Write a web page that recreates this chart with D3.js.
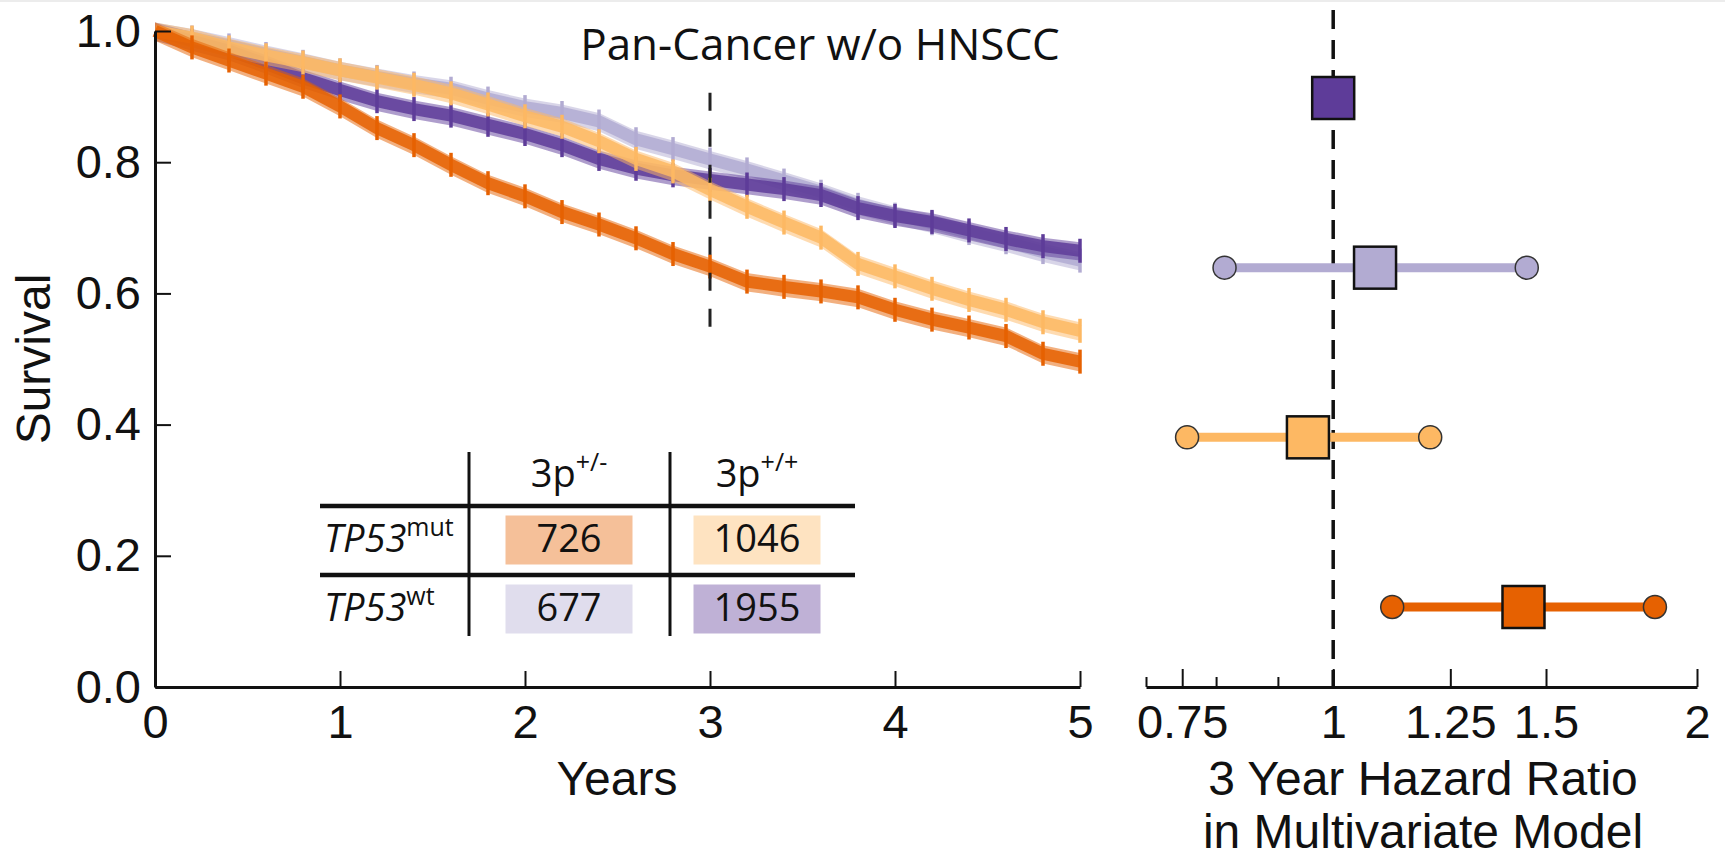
<!DOCTYPE html>
<html><head><meta charset="utf-8">
<script src="https://cdn.jsdelivr.net/npm/d3@7"></script>
<style>body{margin:0;background:#fff}svg{display:block}</style>
</head><body><svg id="c" width="1725" height="862"></svg>
<script>
// ---------- data ----------
const years = [0,0.2,0.4,0.6,0.8,1.0,1.2,1.4,1.6,1.8,2.0,2.2,2.4,2.6,2.8,3.0,3.2,3.4,3.6,3.8,4.0,4.2,4.4,4.6,4.8,5.0];
// TP53wt 3p+/-
const survWtLoss    = [1.0,0.99,0.978,0.965,0.953,0.94,0.93,0.92,0.912,0.897,0.884,0.875,0.862,0.835,0.82,0.804,0.789,0.772,0.755,0.735,0.72,0.707,0.692,0.678,0.663,0.65];
// TP53wt 3p+/+
const survWtIntact  = [1.0,0.985,0.97,0.95,0.928,0.91,0.893,0.881,0.871,0.857,0.843,0.826,0.805,0.79,0.78,0.773,0.766,0.759,0.75,0.73,0.718,0.709,0.696,0.683,0.672,0.665];
// TP53mut 3p+/+
const survMutIntact = [1.0,0.99,0.975,0.963,0.952,0.94,0.929,0.918,0.905,0.888,0.87,0.854,0.832,0.805,0.786,0.758,0.732,0.708,0.685,0.645,0.626,0.607,0.59,0.575,0.556,0.543];
// TP53mut 3p+/-
const survMutLoss   = [1.0,0.975,0.955,0.935,0.915,0.885,0.852,0.826,0.796,0.768,0.748,0.724,0.705,0.684,0.66,0.641,0.618,0.61,0.603,0.594,0.575,0.56,0.548,0.535,0.508,0.496];

const groups = ["wt_intact","wt_loss","mut_intact","mut_loss"];
const groupColors = {wt_intact:"#5e3c99", wt_loss:"#b2abd2", mut_intact:"#fdb863", mut_loss:"#e66101"};

// forest plot (3 year hazard ratio)
const hazardRatio = [1.0, 1.083, 0.953, 1.437];
const ciLow       = [null, 0.813, 0.757, 1.119];
const ciHigh      = [null, 1.446, 1.203, 1.846];
const hrMajorTicks = [0.75, 1, 1.25, 1.5, 2];
const hrMinorTicks = [0.7, 0.8, 0.9];

// inset table
const tableRows = ["TP53|mut","TP53|wt"];
const tableCols = ["3p|+/-","3p|+/+"];
const tableCounts = [[726,1046],[677,1955]];
const tableGroups = [["mut_loss","mut_intact"],["wt_loss","wt_intact"]];

const yearTicks = [0,1,2,3,4,5];
const survTicks = [0,0.2,0.4,0.6,0.8,1.0];
const cutYear = 3;

// ---------- drawing ----------
const svg = d3.select("#c");
const AX = "Liberation Sans, Arial, sans-serif";
const MY = "Open Sans, Noto Sans, sans-serif";

svg.append("line").attr("x1",0).attr("x2",1725).attr("y1",1).attr("y2",1)
  .attr("stroke","#ececec").attr("stroke-width",2);

const x = d3.scaleLinear().domain([0,5]).range([155,1080]);
const y = d3.scaleLinear().domain([0,1]).range([687,31]);

// KM curves
const kmSeries = [
  {g:"wt_loss", s:survWtLoss},
  {g:"wt_intact", s:survWtIntact},
  {g:"mut_intact", s:survMutIntact},
  {g:"mut_loss", s:survMutLoss}
];
const kmLine = d3.line().x(d=>x(d[0])).y(d=>y(d[1]));
const band = d3.area().x(d=>x(d[0])).y0(d=>y(d[1]-0.015)).y1(d=>y(d[1]+0.013));
const km = svg.append("g");
kmSeries.forEach(ser=>{
  const pts = years.map((t,i)=>[t,ser.s[i]]);
  const c = groupColors[ser.g];
  km.append("path").attr("d",band(pts)).attr("fill",c).attr("opacity",0.5);
  km.append("path").attr("d",kmLine(pts)).attr("fill","none").attr("stroke",c)
    .attr("stroke-width",12).attr("opacity",0.85);
  km.selectAll(null).data(pts.slice(1)).enter().append("line")
    .attr("x1",d=>x(d[0])).attr("x2",d=>x(d[0]))
    .attr("y1",d=>y(d[1])-12).attr("y2",d=>y(d[1])+12)
    .attr("stroke",c).attr("stroke-width",3.5);
});

// dashed 3-year line
svg.append("line").attr("x1",x(cutYear)).attr("x2",x(cutYear))
  .attr("y1",y(0.906)).attr("y2",y(0.542))
  .attr("stroke","#222").attr("stroke-width",3).attr("stroke-dasharray","18,18");

// axes
const yAxis = svg.append("g").attr("transform",`translate(${x(0)},0)`)
  .call(d3.axisLeft(y).tickValues(survTicks).tickFormat(d3.format(".1f")).tickSize(-16).tickPadding(14).tickSizeOuter(0));
const xAxis = svg.append("g").attr("transform",`translate(0,${y(0)})`)
  .call(d3.axisBottom(x).tickValues(yearTicks).tickFormat(d3.format("d")).tickSize(-16).tickPadding(18).tickSizeOuter(0));
[yAxis,xAxis].forEach(a=>{
  a.select(".domain").attr("stroke","#111").attr("stroke-width",3);
  a.selectAll(".tick line").attr("stroke","#111").attr("stroke-width",2);
  a.selectAll("text").attr("font-family",AX).attr("font-size",47).attr("fill","#111");
});

svg.append("text").attr("x",617).attr("y",795).attr("text-anchor","middle")
  .attr("font-family",AX).attr("font-size",48).attr("fill","#111").text("Years");
svg.append("text").attr("transform","translate(50,359) rotate(-90)").attr("text-anchor","middle")
  .attr("font-family",AX).attr("font-size",48).attr("fill","#111").text("Survival");

svg.append("text").attr("x",820).attr("y",60).attr("text-anchor","middle")
  .attr("font-family",MY).attr("font-size",44).attr("fill","#111").text("Pan-Cancer w/o HNSCC");

// ---------- inset table ----------
const tcx = d3.scalePoint().domain(tableCols).range([569,757]);
const tcy = d3.scalePoint().domain(tableRows).range([540,609]);
const tbl = svg.append("g");
tableRows.forEach((r,i)=>{
  tableCols.forEach((c,j)=>{
    const cx = tcx(c), cy = tcy(r);
    tbl.append("rect").attr("x",cx-63.5).attr("y",cy-24.5).attr("width",127).attr("height",49)
      .attr("fill",groupColors[tableGroups[i][j]]).attr("fill-opacity",0.4);
    tbl.append("text").attr("x",cx).attr("y",cy+12).attr("text-anchor","middle")
      .attr("font-family",MY).attr("font-size",38).attr("fill","#111").text(tableCounts[i][j]);
  });
  const [main,sup] = r.split("|");
  const t = tbl.append("text").attr("x",324).attr("y",tcy(r)+12)
    .attr("font-family",MY).attr("font-size",38).attr("fill","#111");
  t.append("tspan").attr("font-style","italic").text(main);
  t.append("tspan").attr("font-size",25).attr("dy",-16).text(sup);
});
tableCols.forEach(c=>{
  const [main,sup] = c.split("|");
  const t = tbl.append("text").attr("x",tcx(c)).attr("y",487).attr("text-anchor","middle")
    .attr("font-family",MY).attr("font-size",38).attr("fill","#111");
  t.append("tspan").text(main);
  t.append("tspan").attr("font-size",25).attr("dy",-16).text(sup);
});
[506,575].forEach(yy=>tbl.append("line").attr("x1",320).attr("x2",855).attr("y1",yy).attr("y2",yy)
  .attr("stroke","#111").attr("stroke-width",4.5));
[469,670].forEach(xx=>tbl.append("line").attr("x1",xx).attr("x2",xx).attr("y1",452).attr("y2",636)
  .attr("stroke","#111").attr("stroke-width",3));

// ---------- forest plot ----------
const hx = d3.scaleLog().domain([0.7,2]).range([1146,1697]);
const hy = d3.scalePoint().domain(groups).range([98,607]);

svg.append("line").attr("x1",hx(1)).attr("x2",hx(1)).attr("y1",10).attr("y2",687)
  .attr("stroke","#111").attr("stroke-width",3.5).attr("stroke-dasharray","19,11");

const hAxis = svg.append("g").attr("transform","translate(0,687)")
  .call(d3.axisBottom(hx).tickValues(hrMajorTicks).tickFormat(d=>String(d)).tickSize(-18).tickPadding(18).tickSizeOuter(0));
hAxis.select(".domain").attr("stroke","#111").attr("stroke-width",3);
hAxis.selectAll(".tick line").attr("stroke","#111").attr("stroke-width",2);
hAxis.selectAll("text").attr("font-family",AX).attr("font-size",47).attr("fill","#111");
const hMinor = svg.append("g").attr("transform","translate(0,687)")
  .call(d3.axisBottom(hx).tickValues(hrMinorTicks).tickFormat("").tickSize(-10).tickSizeOuter(0));
hMinor.select(".domain").remove();
hMinor.selectAll(".tick line").attr("stroke","#111").attr("stroke-width",2);

svg.append("text").attr("x",1423).attr("y",795).attr("text-anchor","middle")
  .attr("font-family",AX).attr("font-size",48).attr("fill","#111").text("3 Year Hazard Ratio");
svg.append("text").attr("x",1423).attr("y",848).attr("text-anchor","middle")
  .attr("font-family",AX).attr("font-size",48).attr("fill","#111").text("in Multivariate Model");

const fp = svg.append("g");
groups.forEach((g,i)=>{
  const c = groupColors[g], cy = hy(g);
  if (ciLow[i] !== null) {
    fp.append("line").attr("x1",hx(ciLow[i])).attr("x2",hx(ciHigh[i])).attr("y1",cy).attr("y2",cy)
      .attr("stroke",c).attr("stroke-width",9);
    [ciLow[i],ciHigh[i]].forEach(v=>fp.append("circle").attr("cx",hx(v)).attr("cy",cy).attr("r",11.5)
      .attr("fill",c).attr("stroke","#333").attr("stroke-width",1.5));
  }
  fp.append("rect").attr("x",hx(hazardRatio[i])-21).attr("y",cy-21).attr("width",42).attr("height",42)
    .attr("fill",c).attr("stroke","#111").attr("stroke-width",2.5);
});
</script></body></html>
